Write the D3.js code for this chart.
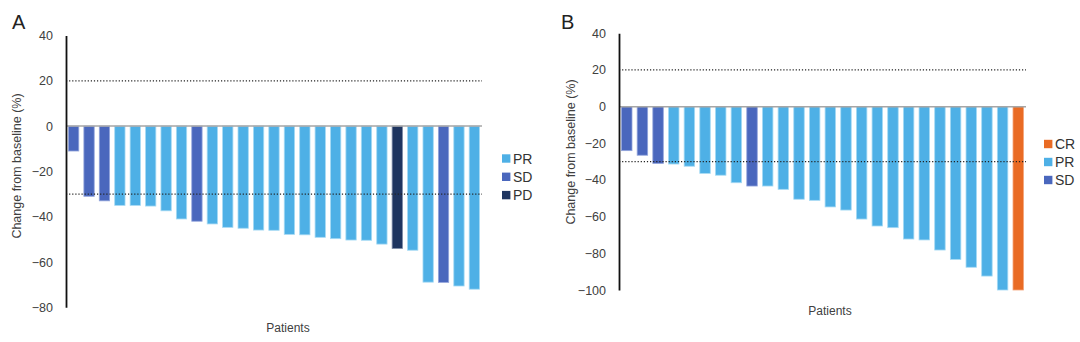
<!DOCTYPE html>
<html>
<head>
<meta charset="utf-8">
<script src="https://cdn.jsdelivr.net/npm/d3@7"></script>
<style>
  html, body { margin: 0; padding: 0; background: #fff; }
  svg { display: block; font-family: "Liberation Sans", Arial, sans-serif; }
</style>
</head>
<body>
<svg id="chart" width="1080" height="342"></svg>
<script>
// Panel A: best change in tumour size per patient
const aValues = [-11, -31, -33, -35, -35, -35.3, -37.4, -41, -42, -43.2, -44.7, -45.1, -45.9, -46,
                 -47.8, -48, -49.1, -49.7, -50.3, -50.4, -52.1, -54, -54.8, -68.9, -69, -70.6, -72];
const aResponse = ["SD", "SD", "SD", "PR", "PR", "PR", "PR", "PR", "SD", "PR", "PR", "PR", "PR", "PR",
                   "PR", "PR", "PR", "PR", "PR", "PR", "PR", "PD", "PR", "PR", "SD", "PR", "PR"];
const aTicks = [40, 20, 0, -20, -40, -60, -80];
const aLegend = ["PR", "SD", "PD"];

// Panel B
const bValues = [-24, -26.5, -31, -31.3, -32.5, -36.4, -37.4, -41.5, -43.3, -43.3, -45.1, -50.5, -51.1,
                 -54.7, -56.4, -61.3, -65.1, -66, -72.2, -72.7, -78.2, -83.3, -87.6, -92.4, -100, -100];
const bResponse = ["SD", "SD", "SD", "PR", "PR", "PR", "PR", "PR", "SD", "PR", "PR", "PR", "PR",
                   "PR", "PR", "PR", "PR", "PR", "PR", "PR", "PR", "PR", "PR", "PR", "PR", "CR"];
const bTicks = [40, 20, 0, -20, -40, -60, -80, -100];
const bLegend = ["CR", "PR", "SD"];

// Response thresholds drawn as dotted reference lines
const thresholds = [20, -30];

const colors = { CR: "#E96B24", PR: "#4EB0E6", SD: "#4A67BD", PD: "#1F3560" };
const strokes = { CR: "#F4A57A", PR: "#A6DAF4", SD: "#93A5DC", PD: "#7C8AA6" };

const svg = d3.select("#chart");

function drawPanel(opt) {
  const g = svg.append("g");
  const x = d3.scaleBand()
    .domain(d3.range(opt.values.length))
    .range([opt.x0, opt.x1])
    .paddingInner(0.33)
    .paddingOuter(0.16);
  const y = d3.scaleLinear().domain(opt.domain).range([opt.yBottom, opt.yTop]);

  // panel letter
  g.append("text").attr("x", opt.letterX).attr("y", opt.letterY)
    .attr("font-size", 20).attr("fill", "#222").text(opt.letter);

  // bars
  g.selectAll("rect.bar").data(opt.values).join("rect")
    .attr("class", "bar")
    .attr("x", (d, i) => x(i))
    .attr("width", x.bandwidth())
    .attr("y", y(0))
    .attr("height", d => y(d) - y(0))
    .attr("fill", (d, i) => colors[opt.response[i]])
    .attr("stroke", (d, i) => strokes[opt.response[i]])
    .attr("stroke-width", 0.8);

  // dotted thresholds
  g.selectAll("line.thr").data(thresholds).join("line")
    .attr("class", "thr")
    .attr("x1", opt.x0).attr("x2", opt.x1)
    .attr("y1", d => y(d)).attr("y2", d => y(d))
    .attr("stroke", "#222").attr("stroke-width", 1.2)
    .attr("stroke-dasharray", "1.2,1.9");

  // zero line
  g.append("line")
    .attr("x1", opt.x0).attr("x2", opt.x1)
    .attr("y1", y(0)).attr("y2", y(0))
    .attr("stroke", "#A6A6A6").attr("stroke-width", 1.5);

  // y axis
  const axis = d3.axisLeft(y).tickValues(opt.ticks).tickSize(0).tickPadding(13);
  const ag = g.append("g").attr("transform", `translate(${opt.x0},0)`).call(axis);
  ag.select(".domain").attr("stroke", "#111").attr("stroke-width", 1.8);
  ag.selectAll("text").attr("font-size", 12.5).attr("fill", "#404040")
    .attr("font-family", "'Liberation Sans', Arial, sans-serif");

  // axis titles
  g.append("text")
    .attr("transform", `translate(${opt.yTitleX},${opt.yTitleY}) rotate(-90)`)
    .attr("text-anchor", "middle").attr("dominant-baseline", "central")
    .attr("font-size", 12.5).attr("fill", "#404040")
    .text("Change from baseline (%)");
  g.append("text")
    .attr("x", opt.xTitleX).attr("y", opt.xTitleY)
    .attr("text-anchor", "middle").attr("dominant-baseline", "central")
    .attr("font-size", 12).attr("fill", "#404040")
    .text("Patients");

  // legend
  const lg = g.selectAll("g.leg").data(opt.legend).join("g")
    .attr("class", "leg")
    .attr("transform", (d, i) => `translate(${opt.legX},${opt.legY + i * opt.legStep})`);
  lg.append("rect").attr("x", 0).attr("y", -4.2).attr("width", 8.4).attr("height", 8.4)
    .attr("fill", d => colors[d]);
  lg.append("text").attr("x", 11).attr("y", 0).attr("dominant-baseline", "central")
    .attr("font-size", 14).attr("fill", "#333").text(d => d);
}

drawPanel({
  letter: "A", letterX: 12, letterY: 29,
  values: aValues, response: aResponse, ticks: aTicks, legend: aLegend,
  domain: [-80, 40], x0: 66, x1: 482, yTop: 35.5, yBottom: 307.3,
  yTitleX: 17, yTitleY: 166, xTitleX: 288, xTitleY: 328,
  legX: 502, legY: 158.5, legStep: 18.3
});

drawPanel({
  letter: "B", letterX: 561, letterY: 29,
  values: bValues, response: bResponse, ticks: bTicks, legend: bLegend,
  domain: [-100, 40], x0: 619, x1: 1026, yTop: 33.3, yBottom: 290,
  yTitleX: 571, yTitleY: 152, xTitleX: 830, xTitleY: 311,
  legX: 1044, legY: 144, legStep: 18
});
</script>
</body>
</html>
